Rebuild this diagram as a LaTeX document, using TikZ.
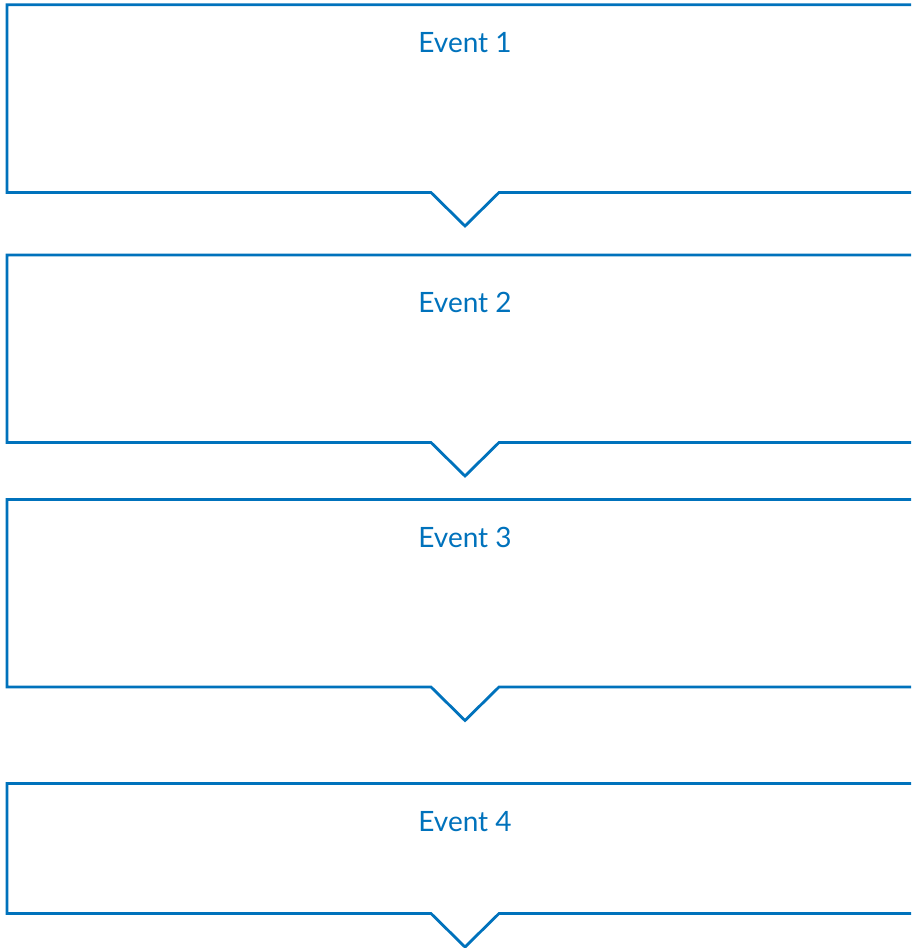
\documentclass[tikz,border=0pt]{standalone}
\usepackage{fontspec}
\setmainfont{Lato}
\definecolor{evblue}{RGB}{0,114,188}
\begin{document}
\begin{tikzpicture}[x=1pt,y=-1pt,
  evshape/.style={draw=evblue,line width=2.8pt,line join=miter},
  evlabel/.style={text=evblue,font=\fontsize{28}{32}\selectfont,anchor=center,inner sep=0pt}]
\useasboundingbox (0,0) rectangle (911,948);
\clip (0,0) rectangle (911,948);
\foreach \i/\t/\b/\ty in {1/4.7/192.5/43, 2/255/442.5/302, 3/499.5/687/537, 4/783.5/913.5/822} {
  \draw[evshape] (930,\t) -- (7,\t) -- (7,\b) -- (431,\b) -- (465,\b+33.5) -- (499,\b) -- (930,\b);
  \node[evlabel] (ev\i) at (465,\ty) {Event \i};
}
\end{tikzpicture}
\end{document}
